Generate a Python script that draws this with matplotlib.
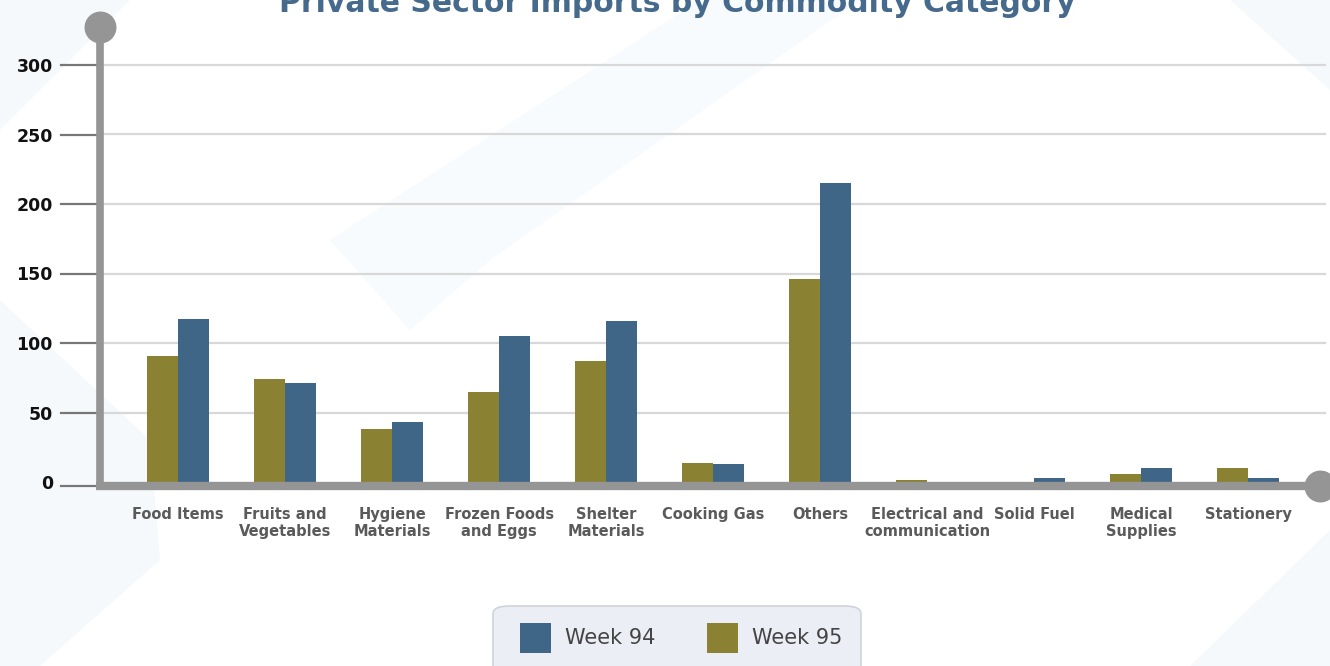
import matplotlib.pyplot as plt
from matplotlib.patches import FancyBboxPatch, Polygon
import numpy as np

categories = [
    "Food Items", "Fruits and\nVegetables", "Hygiene\nMaterials", "Frozen Foods\nand Eggs",
    "Shelter\nMaterials", "Cooking Gas", "Others", "Electrical and\ncommunication",
    "Solid Fuel", "Medical\nSupplies", "Stationery",
]
week95 = [91, 74, 38, 65, 87, 14, 146, 1.5, 0, 6, 10]
week94 = [117, 71, 43, 105, 116, 13, 215, 0, 3, 10, 3]
yticks = [0, 50, 100, 150, 200, 250, 300]

BLUE = "#3f6687"
OLIVE = "#8a8133"
AXIS = "#959595"

fig = plt.figure(figsize=(13.3, 6.66), dpi=100)
W, H = 1330, 666

# faint background shapes (pixel coords, top-left origin)
def px_poly(pts, color):
    p = Polygon([(x / W, 1 - y / H) for x, y in pts], closed=True,
                transform=fig.transFigure, facecolor=color, edgecolor="none", zorder=-5)
    fig.patches.append(p)

px_poly([(0, 0), (130, 0), (0, 130)], "#f6f9fc")
px_poly([(1230, 0), (1330, 0), (1330, 90)], "#f6f9fc")
px_poly([(700, 0), (860, 0), (490, 260), (410, 330), (330, 240)], "#f7fbfd")
px_poly([(0, 300), (150, 440), (160, 560), (40, 666), (0, 666)], "#f6f9fc")
px_poly([(1190, 666), (1330, 530), (1330, 666)], "#f6f9fc")

ax_h = 417
ax = fig.add_axes([100 / W, 1 - 482 / H, 1220 / W, ax_h / H])
ax.patch.set_alpha(0)
x = np.arange(len(categories))
bw = 0.29
ax.bar(x - bw / 2, week95, bw, color=OLIVE, zorder=3, label="Week 95")
ax.bar(x + bw / 2, week94, bw, color=BLUE, zorder=3, label="Week 94")

ax.set_xlim(-0.73, 10.67)
ax.set_ylim(0, 300)
for s in ax.spines.values():
    s.set_visible(False)
ax.set_yticks(yticks)
ax.tick_params(axis="y", length=0, pad=34, labelsize=12.5)
for lab in ax.get_yticklabels():
    lab.set_fontweight("semibold")
    lab.set_color("#111111")
off = -4 / ax_h  # baseline line sits a few px below the bars' zero
for t in yticks:
    yy = t / 300 if t else off
    if t:
        ax.axhline(t, color="#d8d8d8", lw=1.6, zorder=1, xmax=1.004, clip_on=False)
    ax.plot([-0.032, 0], [yy, yy], transform=ax.transAxes, color="#777777",
            lw=1.6, clip_on=False, zorder=2)

ax.set_xticks(x)
ax.set_xticklabels(categories, fontsize=10.5, fontweight="bold", color="#5a5a5a",
                   linespacing=1.15)
ax.tick_params(axis="x", length=0, pad=18)

# custom axis lines with round caps
ax.plot([0, 0], [off - 0.01, 1.09], transform=ax.transAxes, color=AXIS, lw=5.5,
        clip_on=False, zorder=5, solid_capstyle="butt")
ax.plot([0], [1.09], transform=ax.transAxes, marker="o", ms=22, color=AXIS,
        clip_on=False, zorder=5)
ax.plot([-0.003, 1.0], [off, off], transform=ax.transAxes, color=AXIS, lw=6,
        clip_on=False, zorder=5, solid_capstyle="butt")
ax.plot([1.0], [off], transform=ax.transAxes, marker="o", ms=22, color=AXIS,
        clip_on=False, zorder=5)

fig.text(677 / W, 1 - 4 / H, "Private Sector Imports by Commodity Category",
         ha="center", va="center", fontsize=21.5, color="#456a8c", fontweight="bold")

# legend box
box = FancyBboxPatch((493 / W, -0.05), 368 / W, (666 - 606) / H + 0.05,
                     boxstyle="round,pad=0,rounding_size=0.012", transform=fig.transFigure,
                     facecolor="#eceef5", edgecolor="#d0d3dc", lw=1.2, zorder=6)
fig.patches.append(box)
leg_items = [("Week 94", BLUE, 520), ("Week 95", OLIVE, 707)]
for name, col, px in leg_items:
    sq = FancyBboxPatch((px / W, 1 - 653 / H), 31 / W, 30 / H, boxstyle="square,pad=0",
                        transform=fig.transFigure, facecolor=col, edgecolor="none", zorder=7)
    fig.patches.append(sq)
    fig.text((px + 45) / W, 1 - 638 / H, name, ha="left", va="center", fontsize=15,
             color="#444444", zorder=8)

fig.savefig("out.png", dpi=100)
